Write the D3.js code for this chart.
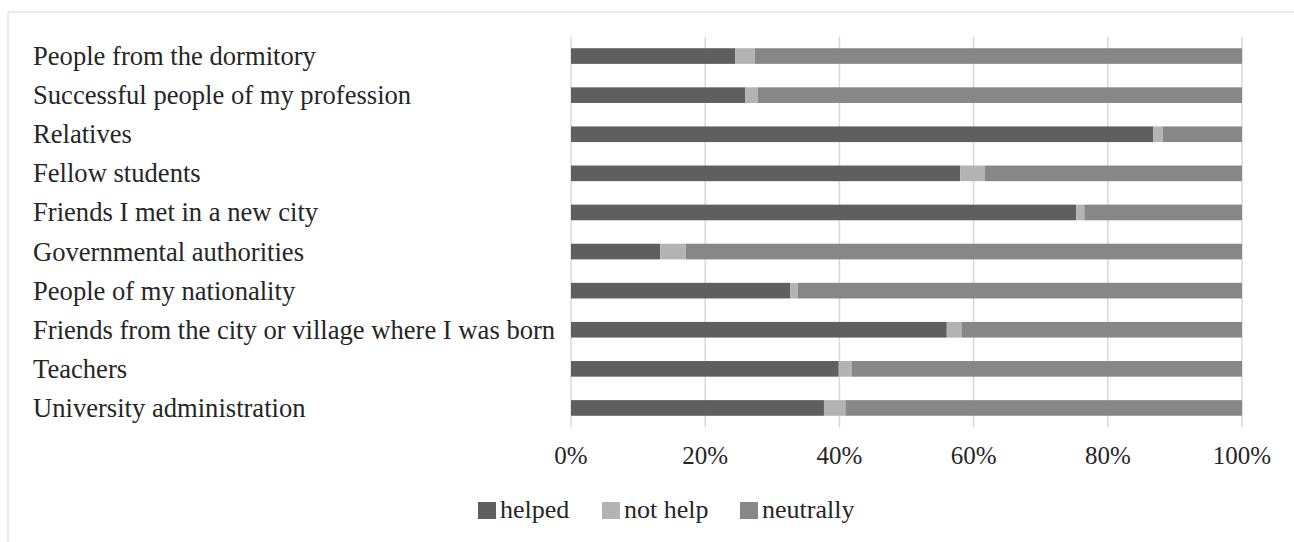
<!DOCTYPE html>
<html>
<head>
<meta charset="utf-8">
<script src="https://cdn.jsdelivr.net/npm/d3@7"></script>
<style>
  html, body { margin: 0; padding: 0; background: #fff; }
  svg { display: block; }
  text { font-family: "Liberation Serif", "Times New Roman", serif; fill: #262626; }
</style>
</head>
<body>
<svg id="chart" width="1294" height="542"></svg>
<script>
const categories = [
  "People from the dormitory",
  "Successful people of my profession",
  "Relatives",
  "Fellow students",
  "Friends I met in a new city",
  "Governmental authorities",
  "People of my nationality",
  "Friends from the city or village where I was born",
  "Teachers",
  "University administration"
];
const seriesNames = ["helped", "not help", "neutrally"];
const helped   = [24.5, 26.0, 86.8, 58.0, 75.3, 13.3, 32.7, 56.0, 39.9, 37.7];
const notHelp  = [ 2.9,  1.8,  1.4,  3.7,  1.2,  3.8,  1.1,  2.2,  1.9,  3.2];
const neutrally= [72.6, 72.2, 11.8, 38.3, 23.5, 82.9, 66.2, 41.8, 58.2, 59.1];
const tickValues = [0, 20, 40, 60, 80, 100];
const tickLabels = ["0%", "20%", "40%", "60%", "80%", "100%"];
const colors = ["#5f5f5f", "#b3b3b3", "#878787"];

const svg = d3.select("#chart");

// frame (top and left edge only visible)
svg.append("line").attr("x1", 8).attr("x2", 1294).attr("y1", 12).attr("y2", 12)
  .attr("stroke", "#e6e6e6").attr("stroke-width", 1.5);
svg.append("line").attr("x1", 8).attr("x2", 8).attr("y1", 12).attr("y2", 542)
  .attr("stroke", "#e6e6e6").attr("stroke-width", 1.5);

const x = d3.scaleLinear().domain([0, 100]).range([571, 1242]);
const y = d3.scaleBand().domain(categories).range([36.5, 427.5])
  .paddingInner(0.6).paddingOuter(0.3);

// gridlines
svg.append("g").selectAll("line").data(tickValues).join("line")
  .attr("x1", d => x(d)).attr("x2", d => x(d))
  .attr("y1", 36.5).attr("y2", 427.5)
  .attr("stroke", "#d9d9d9").attr("stroke-width", 1.5);

// stacked data
const rows = categories.map((c, i) => ({ cat: c, "helped": helped[i], "not help": notHelp[i], "neutrally": neutrally[i] }));
const stack = d3.stack().keys(seriesNames)(rows);

svg.append("g").selectAll("g").data(stack).join("g")
  .attr("fill", (d, i) => colors[i])
  .selectAll("rect").data(d => d).join("rect")
  .attr("x", d => x(d[0]))
  .attr("width", d => x(Math.min(d[1], 100)) - x(d[0]))
  .attr("y", d => y(d.data.cat))
  .attr("height", y.bandwidth());

// category labels
svg.append("g").selectAll("text").data(categories).join("text")
  .attr("x", 33)
  .attr("y", d => y(d) + y.bandwidth() / 2)
  .attr("dy", "0.34em")
  .style("font-size", "26.6px")
  .text(d => d);

// x axis tick labels
svg.append("g").selectAll("text").data(tickValues).join("text")
  .attr("x", d => x(d))
  .attr("y", 464)
  .attr("text-anchor", "middle")
  .style("font-size", "25px")
  .text((d, i) => tickLabels[i]);

// legend
const legendX = [478, 602, 740];
const lg = svg.append("g").selectAll("g").data(seriesNames).join("g")
  .attr("transform", (d, i) => `translate(${legendX[i]},0)`);
lg.append("rect").attr("x", 0).attr("y", 502).attr("width", 18).attr("height", 17)
  .attr("fill", (d, i) => colors[i]);
lg.append("text").attr("x", 22).attr("y", 518).style("font-size", "26px").text(d => d);
</script>
</body>
</html>
